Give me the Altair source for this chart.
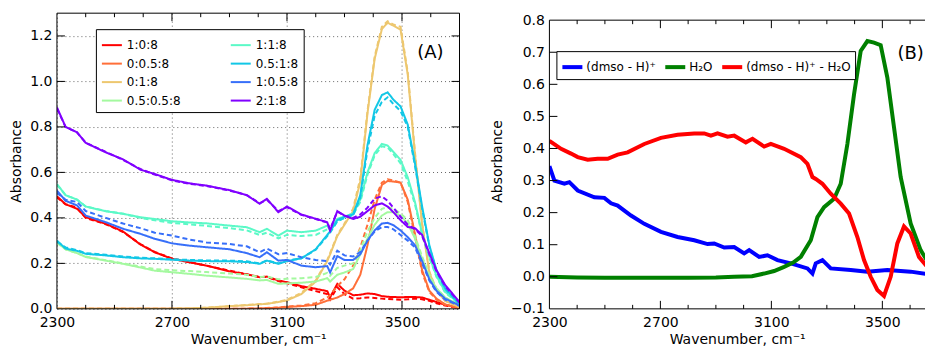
import altair as alt
import pandas as pd

# ---------------- Panel A data ----------------
WN_A = [2300, 2330, 2370, 2400, 2470, 2530, 2590, 2640, 2700, 2760, 2820, 2900, 2960, 3005, 3030,
        3070, 3100, 3150, 3200, 3240, 3250, 3275, 3300, 3330, 3355, 3380, 3405, 3430, 3450, 3470,
        3495, 3520, 3545, 3570, 3595, 3620, 3650, 3700]

SERIES = ['1:0:8', '0:0.5:8', '0:1:8', '0.5:0.5:8', '1:1:8', '0.5:1:8', '1:0.5:8', '2:1:8']
COLORS = ['#ff0000', '#ff6f39', '#edc76f', '#a4f99f', '#5bf9c7', '#12c7e6', '#376ff9', '#8000ff']

R_S = [.495, .46, .44, .403, .374, .34, .283, .249, .22, .205, .19, .165, .152, .139, .142, .125, .117, .10, .088, .078,
       .051, .11, .08, .06, .062, .068, .065, .056, .053, .052, .051, .052, .052, .05, .04, .03, .018, .003]
R_D = [.49, .46, .445, .40, .372, .338, .285, .25, .222, .205, .19, .168, .152, .14, .14, .122, .112, .095, .078, .065,
       .04, .095, .065, .045, .047, .05, .048, .045, .043, .042, .04, .042, .045, .042, .035, .025, .015, .002]
O_S = [0, 0, 0, 0, 0, 0, 0, 0, 0, 0, 0, 0, .001, .002, .003, .005, .008, .012, .018, .036, .04, .05, .065, .09, .15,
       .28, .44, .545, .562, .56, .555, .48, .33, .17, .08, .045, .02, .003]
O_D = [0, 0, 0, 0, 0, 0, 0, 0, 0, 0, 0, 0, .001, .002, .004, .006, .01, .015, .025, .05, .06, .10, .13, .19, .27,
       .37, .48, .555, .57, .565, .555, .47, .32, .16, .075, .04, .018, .003]
LO_S = [0, 0, 0, 0, 0, 0, 0, 0, .001, .002, .005, .012, .016, .02, .022, .03, .037, .065, .12, .21, .24, .32, .37, .43,
        .56, .86, 1.10, 1.23, 1.258, 1.245, 1.228, 1.03, .68, .37, .16, .08, .035, .007]
LO_D = [0, 0, 0, 0, 0, 0, 0, 0, .001, .002, .005, .012, .017, .021, .023, .032, .04, .07, .125, .215, .245, .325, .375,
        .44, .575, .87, 1.11, 1.24, 1.265, 1.25, 1.24, 1.04, .69, .375, .165, .082, .036, .007]
G_S = [.293, .262, .245, .228, .212, .198, .182, .168, .161, .154, .146, .138, .132, .125, .127, .11, .112, .115, .12,
       .135, .12, .15, .16, .175, .24, .31, .37, .41, .425, .425, .41, .375, .31, .22, .14, .09, .05, .015]
G_D = [.29, .262, .245, .23, .214, .2, .186, .175, .17, .166, .162, .155, .15, .14, .142, .13, .132, .135, .14, .158,
       .145, .18, .19, .2, .26, .34, .40, .44, .447, .44, .42, .39, .32, .23, .15, .09, .05, .015]
AQ_S = [.549, .50, .48, .45, .429, .418, .403, .395, .385, .38, .376, .366, .359, .337, .352, .322, .344, .337, .344,
        .366, .345, .396, .405, .42, .48, .60, .685, .725, .718, .69, .655, .578, .47, .33, .23, .145, .075, .022]
AQ_D = [.545, .50, .48, .45, .43, .418, .40, .39, .378, .372, .365, .355, .345, .325, .335, .31, .325, .32, .325, .35,
        .34, .385, .40, .415, .47, .59, .675, .715, .71, .68, .64, .56, .46, .325, .225, .14, .072, .02]
C_S = [.30, .265, .255, .242, .235, .227, .222, .22, .216, .212, .21, .209, .206, .198, .212, .198, .21, .222, .262,
       .325, .34, .39, .405, .415, .50, .72, .875, .94, .952, .92, .89, .81, .64, .45, .28, .17, .09, .022]
C_D = [.295, .27, .258, .245, .238, .23, .225, .222, .218, .215, .213, .212, .209, .2, .213, .2, .212, .222, .26, .32,
       .335, .385, .40, .41, .49, .70, .85, .91, .93, .90, .87, .80, .63, .44, .275, .165, .088, .02]
B_S = [.52, .475, .455, .41, .381, .352, .33, .308, .288, .278, .271, .262, .245, .227, .249, .212, .215, .19, .183,
       .188, .16, .232, .215, .215, .24, .30, .345, .375, .378, .368, .345, .315, .28, .21, .13, .08, .045, .015]
B_D = [.51, .48, .47, .43, .40, .375, .355, .335, .322, .305, .292, .285, .275, .249, .265, .24, .245, .227, .215, .21,
       .195, .256, .235, .23, .25, .30, .34, .36, .36, .35, .325, .30, .27, .20, .125, .075, .04, .013]
P_S = [.886, .80, .776, .73, .688, .657, .612, .593, .567, .552, .542, .522, .50, .462, .484, .425, .45, .415, .396,
       .381, .344, .43, .41, .395, .405, .43, .455, .464, .45, .425, .39, .36, .355, .325, .245, .17, .105, .03]
P_D = [.88, .80, .776, .73, .69, .655, .615, .59, .565, .55, .54, .52, .50, .465, .48, .43, .447, .413, .395, .38,
       .35, .428, .41, .40, .415, .445, .485, .495, .475, .445, .405, .37, .35, .32, .24, .165, .10, .028]

SOLID = [R_S, O_S, LO_S, G_S, AQ_S, C_S, B_S, P_S]
DASHED = [R_D, O_D, LO_D, G_D, AQ_D, C_D, B_D, P_D]

# ---------------- Panel B data ----------------
WN_BLUE = [2300, 2318, 2354, 2372, 2402, 2462, 2498, 2522, 2546, 2594, 2642, 2702, 2762, 2822, 2870, 2894, 2930,
           2966, 3002, 3020, 3056, 3086, 3122, 3170, 3230, 3248, 3260, 3284, 3314, 3386, 3446, 3518, 3602, 3700]
A_BLUE = [.345, .30, .29, .295, .269, .248, .246, .229, .222, .191, .165, .140, .124, .114, .102, .104, .091,
          .093, .073, .083, .062, .067, .052, .042, .026, .010, .042, .052, .026, .021, .016, .021, .016, .003]
WN_GREEN = [2300, 2400, 2500, 2600, 2700, 2800, 2900, 2966, 3030, 3074, 3110, 3146, 3180, 3206, 3242, 3266, 3290,
            3326, 3350, 3374, 3398, 3422, 3446, 3470, 3494, 3518, 3542, 3566, 3602, 3638, 3682, 3700]
A_GREEN = [0.0, -.002, -.003, -.003, -.003, -.003, -.002, 0.0, .002, .010, .018, .031, .045, .062, .114, .186, .217,
           .243, .290, .414, .569, .704, .735, .730, .722, .621, .466, .311, .166, .083, .021, .012]
WN_RED = [2300, 2342, 2378, 2402, 2438, 2474, 2510, 2546, 2582, 2642, 2702, 2762, 2822, 2858, 2882, 2906, 2942,
          2966, 3008, 3032, 3074, 3098, 3146, 3206, 3230, 3248, 3260, 3284, 3314, 3350, 3380, 3410, 3434, 3458,
          3482, 3506, 3530, 3554, 3578, 3602, 3632, 3662, 3700]
A_RED = [.424, .399, .384, .373, .365, .368, .368, .381, .388, .414, .433, .443, .447, .447, .440, .447, .437,
         .440, .419, .430, .406, .414, .399, .373, .352, .311, .305, .290, .259, .228, .197, .124, .052, .000,
         -.041, -.060, .000, .104, .157, .135, .062, .031, .015]
B_NAMES = ['(dmso - H)⁺', 'H₂O', '(dmso - H)⁺ - H₂O']
B_COLORS = ['#0000ff', '#008000', '#ff0000']

# ticks (positions only)
X_MINOR = [2400, 2500, 2600, 2800, 2900, 3000, 3200, 3300, 3400, 3600]
X_MAJOR = [2300, 2700, 3100, 3500]
Y_MAJOR_A = [0.2, 0.4, 0.6, 0.8, 1.0, 1.2]
Y_MAJOR_B = [0.0, 0.1, 0.2, 0.3, 0.4, 0.5, 0.6, 0.7]
Y_LABELS_A = [0, 0.2, 0.4, 0.6, 0.8, 1.0, 1.2]
Y_LABELS_B = [-0.1, 0.0, 0.1, 0.2, 0.3, 0.4, 0.5, 0.6, 0.7, 0.8]

rows = []
for name, s, d in zip(SERIES, SOLID, DASHED):
    for w, v in zip(WN_A, s):
        rows.append({'wn': w, 'A': v, 'series': name, 'style': 'solid'})
    for w, v in zip(WN_A, d):
        rows.append({'wn': w, 'A': v, 'series': name, 'style': 'dashed'})
dfA = pd.DataFrame(rows)

rowsB = []
for name, wl, al in zip(B_NAMES, [WN_BLUE, WN_GREEN, WN_RED], [A_BLUE, A_GREEN, A_RED]):
    for w, v in zip(wl, al):
        rowsB.append({'wn': w, 'A': v, 'series': name})
dfB = pd.DataFrame(rowsB)

FONT = 'DejaVu Sans'
W_A, H = 403, 296
W_B = 376
B_TOP = 0.8 + 0.9 * 7 / 289
B_RIGHT = 2300 + W_B / (333.3 / 1200)

xA = alt.Scale(domain=[2300, 3700], nice=False, zero=False)
yA = alt.Scale(domain=[0, 1.3], nice=False, zero=False)
xB = alt.Scale(domain=[2300, B_RIGHT], nice=False, zero=False)
yB = alt.Scale(domain=[-0.1, B_TOP], nice=False, zero=False)

def xaxis(grid):
    return alt.Axis(values=X_MAJOR, format='d', title='Wavenumber, cm⁻¹', grid=grid, gridDash=[1, 3],
                    gridColor='#666', gridWidth=1, ticks=False, tickSize=0, domain=False, labelPadding=7,
                    titlePadding=3, labelFlush=False, labelOverlap=False)

def yaxis(vals, grid):
    return alt.Axis(values=vals, format='.1f', title='Absorbance', grid=grid, gridDash=[1, 3], gridColor='#666',
                    gridWidth=1, ticks=False, tickSize=0, domain=False, labelPadding=5, titlePadding=6,
                    labelOverlap=False, labelFlush=False, labelSeparation=0)

AX_XA, AX_YA = xaxis(True), yaxis(Y_LABELS_A, True)
AX_XB, AX_YB = xaxis(False), yaxis(Y_LABELS_B, False)

one = pd.DataFrame({'k': [0]})

# ---- Panel A ----
linesA = alt.Chart(dfA).mark_line(strokeWidth=2, clip=True).encode(
    x=alt.X('wn:Q', scale=xA, axis=AX_XA),
    y=alt.Y('A:Q', scale=yA, axis=AX_YA),
    color=alt.Color('series:N', scale=alt.Scale(domain=SERIES, range=COLORS),
                    legend=alt.Legend(orient='none', legendX=39, legendY=16, columns=2, title=None,
                                      labelFontSize=12, labelFont=FONT, symbolType='stroke', symbolSize=400,
                                      symbolStrokeWidth=2, strokeColor='black', fillColor='white',
                                      padding=5, rowPadding=1.5, columnPadding=46, labelOffset=4,
                                      cornerRadius=0)),
    strokeDash=alt.StrokeDash('style:N', scale=alt.Scale(domain=['solid', 'dashed'], range=[[1, 0], [5, 3]]),
                              legend=None),
    order='wn:Q'
)

frameA = alt.Chart(one).mark_rect(fillOpacity=0, stroke='black', strokeWidth=1).encode(
    x=alt.value(0), x2=alt.value(W_A), y=alt.value(0), y2=alt.value(H))

dfxmin = pd.DataFrame({'t': X_MINOR})
dfxmaj = pd.DataFrame({'t': X_MAJOR[1:]})
dfyA = pd.DataFrame({'t': Y_MAJOR_A})
dfyB = pd.DataFrame({'t': Y_MAJOR_B})

def xticks(df, scale, ax, y0, y1):
    return alt.Chart(df).mark_rule(color='black', strokeWidth=1).encode(
        x=alt.X('t:Q', scale=scale, axis=ax), y=alt.value(y0), y2=alt.value(y1))

def yticks(df, scale, ax, x0, x1):
    return alt.Chart(df).mark_rule(color='black', strokeWidth=1).encode(
        y=alt.Y('t:Q', scale=scale, axis=ax), x=alt.value(x0), x2=alt.value(x1))

labelA = alt.Chart(one).mark_text(text='(A)', fontSize=18, font=FONT, color='black').encode(
    x=alt.X(datum=3599, scale=xA, axis=AX_XA), y=alt.Y(datum=1.124, scale=yA, axis=AX_YA))

panelA = alt.layer(
    linesA, frameA,
    xticks(dfxmin, xA, AX_XA, H, H - 4), xticks(dfxmaj, xA, AX_XA, H, H - 8),
    xticks(dfxmin, xA, AX_XA, 0, 4), xticks(dfxmaj, xA, AX_XA, 0, 8),
    yticks(dfyA, yA, AX_YA, 0, 8), yticks(dfyA, yA, AX_YA, W_A, W_A - 8),
    labelA
).properties(width=W_A, height=H)

# ---- Panel B ----
linesB = alt.Chart(dfB).mark_line(strokeWidth=4, clip=True).encode(
    x=alt.X('wn:Q', scale=xB, axis=AX_XB),
    y=alt.Y('A:Q', scale=yB, axis=AX_YB),
    color=alt.Color('series:N', scale=alt.Scale(domain=B_NAMES, range=B_COLORS),
                    legend=alt.Legend(orient='none', legendX=7, legendY=38, direction='horizontal', columns=3,
                                      title=None, labelFontSize=12, labelFont=FONT, symbolType='stroke',
                                      symbolSize=400, symbolStrokeWidth=4, strokeColor='black',
                                      fillColor='white', padding=4, columnPadding=1, labelOffset=2,
                                      cornerRadius=0)),
    order='wn:Q'
)

Y_TOP_PX = 7
frameB_left = alt.Chart(one).mark_rule(color='black', strokeWidth=1).encode(
    x=alt.value(0), y=alt.value(Y_TOP_PX), y2=alt.value(H))
frameB_top = alt.Chart(one).mark_rule(color='black', strokeWidth=1).encode(
    x=alt.value(0), x2=alt.value(W_B), y=alt.value(Y_TOP_PX))
frameB_bot = alt.Chart(one).mark_rule(color='black', strokeWidth=1).encode(
    x=alt.value(0), x2=alt.value(W_B), y=alt.value(H))

dfxminB = pd.DataFrame({'t': [t for t in X_MINOR if t < B_RIGHT]})

labelB = alt.Chart(one).mark_text(text='(B)', fontSize=18, font=FONT, color='black').encode(
    x=alt.X(datum=3602, scale=xB, axis=AX_XB), y=alt.Y(datum=0.693, scale=yB, axis=AX_YB))

panelB = alt.layer(
    linesB, frameB_left, frameB_top, frameB_bot,
    xticks(dfxminB, xB, AX_XB, H, H - 4), xticks(dfxmaj, xB, AX_XB, H, H - 8),
    xticks(dfxminB, xB, AX_XB, Y_TOP_PX, Y_TOP_PX + 4), xticks(dfxmaj, xB, AX_XB, Y_TOP_PX, Y_TOP_PX + 8),
    yticks(dfyB, yB, AX_YB, 0, 8),
    labelB
).properties(width=W_B, height=H)

chart = alt.hconcat(panelA, panelB, spacing=30).resolve_scale(
    color='independent', x='independent', y='independent', strokeDash='independent'
).resolve_legend(color='independent').properties(
    padding={'left': 1, 'top': 4, 'right': 0, 'bottom': 0}
).configure(font=FONT).configure_view(stroke=None).configure_axis(
    labelFontSize=14, titleFontSize=14, titleFontWeight='normal', labelColor='black', titleColor='black',
    labelFont=FONT, titleFont=FONT
)

chart.save('out.html', embed_options={'renderer': 'svg', 'actions': False})
